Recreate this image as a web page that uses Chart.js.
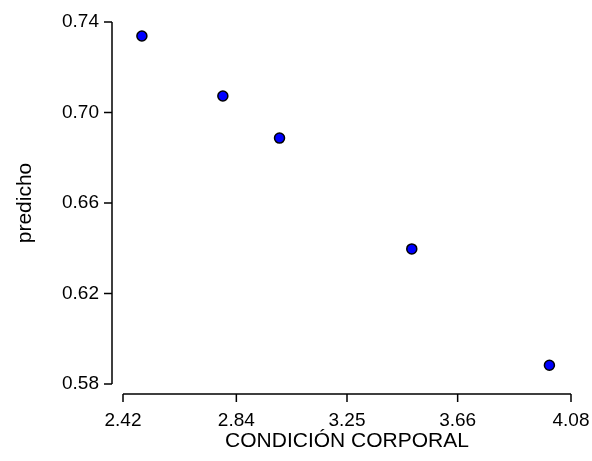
<!DOCTYPE html>
<html>
<head>
<meta charset="utf-8">
<script src="https://cdn.jsdelivr.net/npm/chart.js@4"></script>
<style>
  html, body { margin: 0; padding: 0; background: #fff; }
  #wrap { width: 592px; height: 461px; }
</style>
</head>
<body>
<div id="wrap"><canvas id="chart"></canvas></div>
<script>
const condicion = [2.49, 2.79, 3.00, 3.49, 4.00];
const predicho = [0.7338, 0.7073, 0.6887, 0.6397, 0.5883];
const xTicks = [2.42, 2.84, 3.25, 3.66, 4.08];
const yTicks = [0.58, 0.62, 0.66, 0.70, 0.74];

const FONT = 'Arial, "Liberation Sans", sans-serif';

// axes are drawn detached from the plot area, like the original
const detachedAxes = {
    id: 'detachedAxes',
    beforeDatasetsDraw(chart) {
        const ctx = chart.ctx;
        const x = chart.scales.x, y = chart.scales.y;
        const gap = 11, tick = 8;
        ctx.save();
        ctx.strokeStyle = '#000';
        ctx.lineWidth = 1.5;
        ctx.beginPath();
        const ax = x.left - gap;
        ctx.moveTo(ax, y.getPixelForValue(yTicks[0]));
        ctx.lineTo(ax, y.getPixelForValue(yTicks[yTicks.length - 1]));
        for (const v of yTicks) {
            const py = y.getPixelForValue(v);
            ctx.moveTo(ax - tick, py);
            ctx.lineTo(ax, py);
        }
        const ay = y.bottom + 10;
        ctx.moveTo(x.getPixelForValue(xTicks[0]), ay);
        ctx.lineTo(x.getPixelForValue(xTicks[xTicks.length - 1]), ay);
        for (const v of xTicks) {
            const px = x.getPixelForValue(v);
            ctx.moveTo(px, ay);
            ctx.lineTo(px, ay + tick);
        }
        ctx.stroke();
        ctx.restore();
    }
};

new Chart(document.getElementById('chart'), {
    type: 'scatter',
    data: {
        datasets: [{
            data: condicion.map((c, i) => ({x: c, y: predicho[i]})),
            backgroundColor: '#0000ff',
            borderColor: '#000',
            borderWidth: 1.5,
            pointRadius: 5,
            pointHoverRadius: 5
        }]
    },
    options: {
        responsive: true,
        maintainAspectRatio: false,
        animation: false,
        layout: {padding: {top: 22, right: 21, left: 0, bottom: 0}},
        plugins: {legend: {display: false}, tooltip: {enabled: false}},
        scales: {
            x: {
                type: 'linear',
                min: xTicks[0],
                max: xTicks[xTicks.length - 1],
                afterBuildTicks: s => { s.ticks = xTicks.map(v => ({value: v})); },
                afterFit: s => { s.height = 77; s.paddingLeft = 0; s.paddingRight = 0; },
                grid: {display: false, drawTicks: false},
                border: {display: false},
                ticks: {
                    color: '#000',
                    padding: 25,
                    maxRotation: 0,
                    font: {family: FONT, size: 19},
                    callback: v => v.toFixed(2)
                },
                title: {
                    display: true,
                    text: 'CONDICIÓN CORPORAL',
                    color: '#000',
                    font: {family: FONT, size: 21},
                    padding: {top: 0, bottom: 7}
                }
            },
            y: {
                type: 'linear',
                min: yTicks[0],
                max: yTicks[yTicks.length - 1],
                afterBuildTicks: s => { s.ticks = yTicks.map(v => ({value: v})); },
                afterFit: s => { s.width = 123; s.paddingTop = 0; s.paddingBottom = 0; },
                grid: {display: false, drawTicks: false},
                border: {display: false},
                ticks: {
                    color: '#000',
                    padding: 24,
                    font: {family: FONT, size: 19},
                    callback: v => v.toFixed(2)
                },
                title: {
                    display: true,
                    text: 'predicho',
                    color: '#000',
                    font: {family: FONT, size: 21},
                    padding: {top: 13, bottom: 0}
                }
            }
        }
    },
    plugins: [detachedAxes]
});
</script>
</body>
</html>
